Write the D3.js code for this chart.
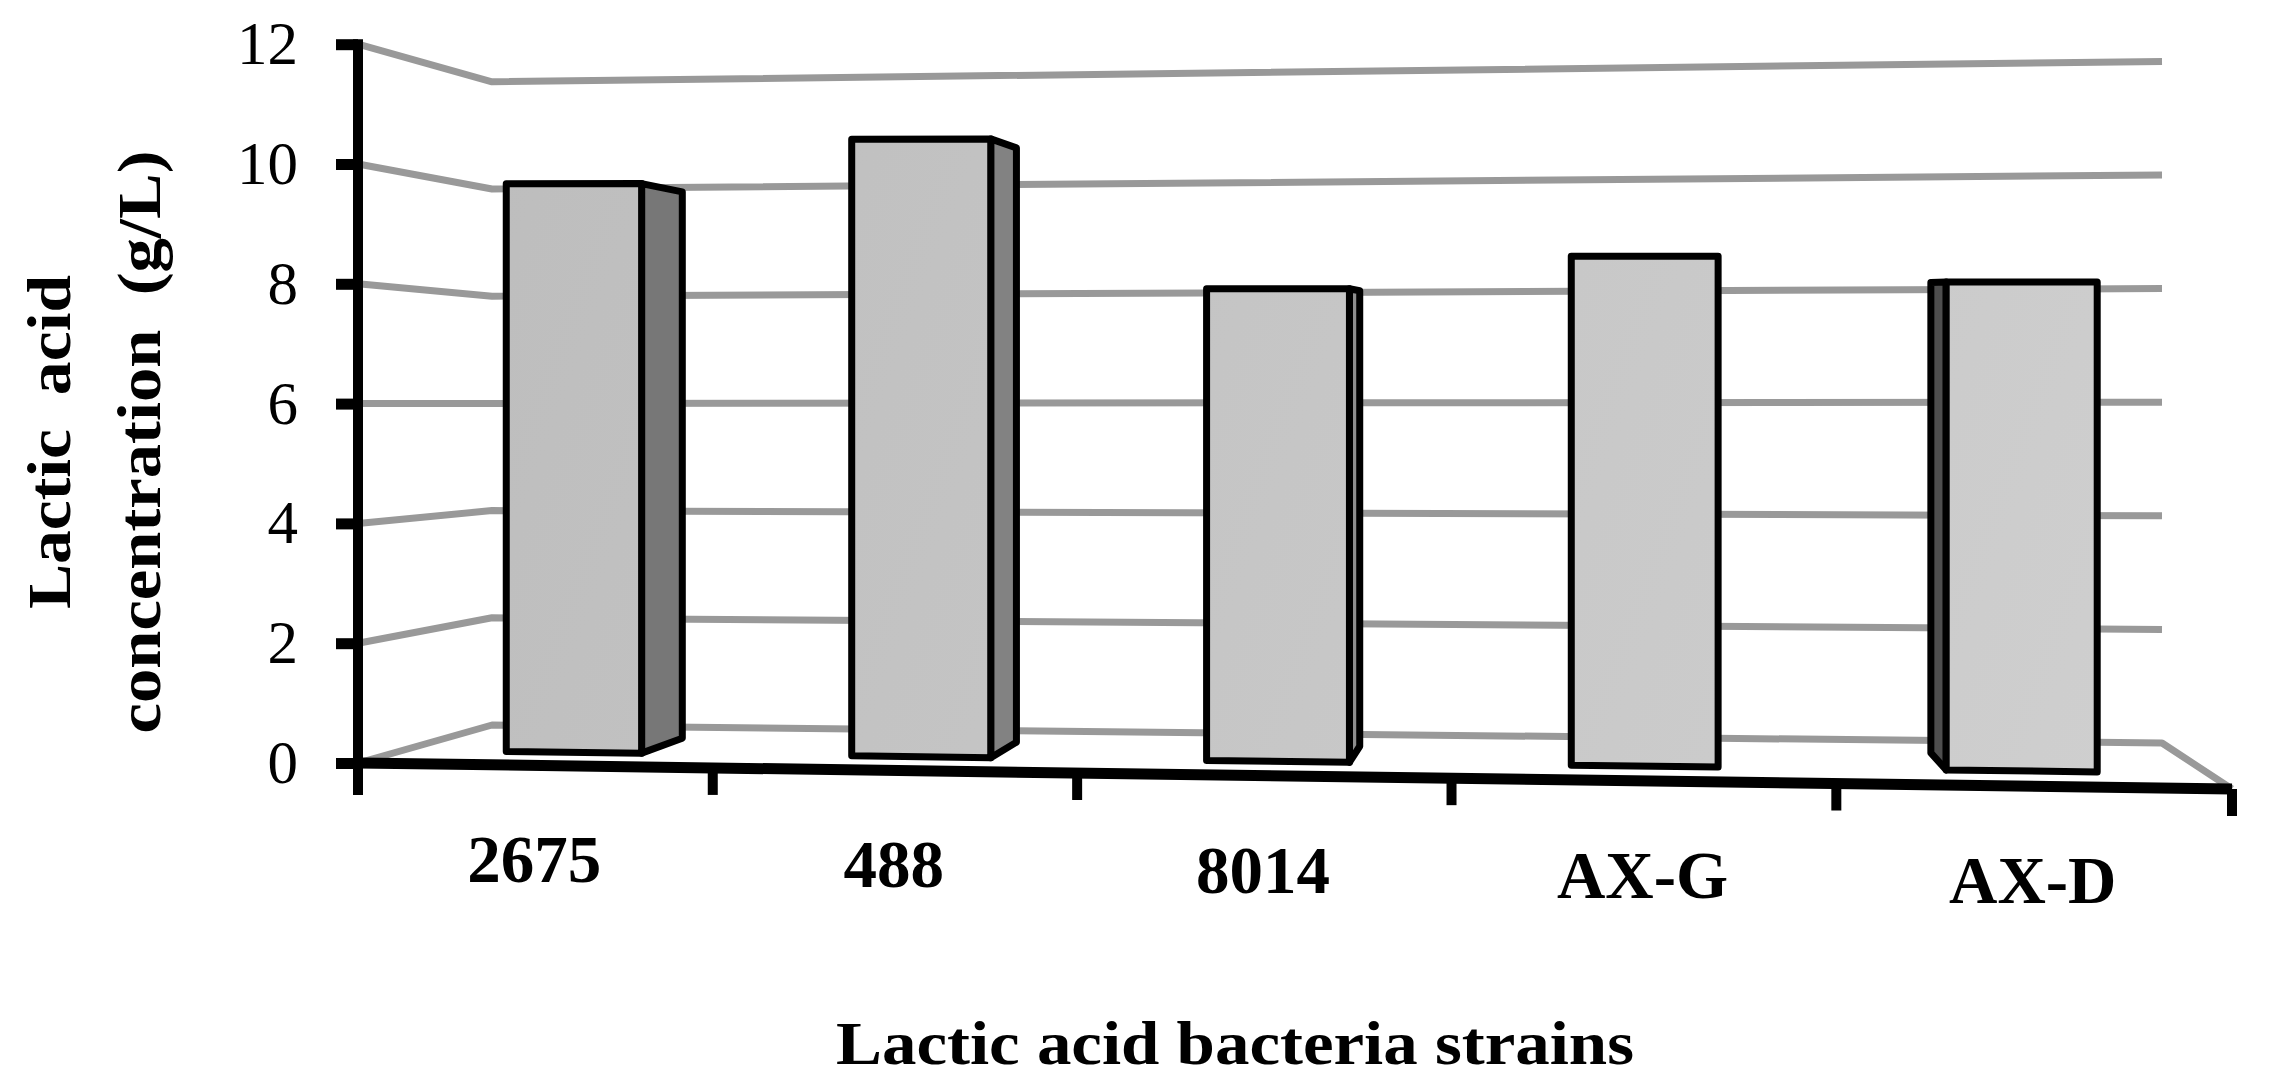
<!DOCTYPE html>
<html>
<head>
<meta charset="utf-8">
<script src="https://cdn.jsdelivr.net/npm/d3@7"></script>
<style>
html,body{margin:0;padding:0;background:#fff;}
svg{display:block;}
text{font-family:"Liberation Serif",serif;fill:#000;}
</style>
</head>
<body>
<div id="chart"></div>
<script>
const strains = ["2675", "488", "8014", "AX-G", "AX-D"];
const concentration = [9.8, 10.55, 8.0, 8.55, 8.12];
const yTicks = [0, 2, 4, 6, 8, 10, 12];
const yTitleLines = ["Lactic  acid", "concentration  (g/L)"];
const xTitle = "Lactic acid bacteria strains";

const W = 2270, H = 1091;
const svg = d3.select("#chart").append("svg").attr("width", W).attr("height", H).attr("viewBox", `0 0 ${W} ${H}`);

// Box corners of the pseudo-3D plot: front and back planes
const FL = {x: 358, y0: 763, unit: 59.9};
const FR = {x: 2232, y0: 789, unit: 62.4};
const BL = {x: 492, y0: 725, unit: 53.6};
const BR = {x: 2162, y0: 743, unit: 56.8};
const depthFront = 0.34, depthBack = 0.72;
const persp = 1.0706;

const lerp = (a, b, t) => a + (b - a) * t;
const foreshorten = t => t / (t + persp * (1 - t));
function project(t, w, v) {
  const u = foreshorten(t);
  const mix = k => lerp(lerp(FL[k], FR[k], u), lerp(BL[k], BR[k], u), w);
  return [mix("x"), mix("y0") - v * mix("unit")];
}

const xBand = d3.scaleBand().domain(strains).range([0, 1.003]).paddingInner(0.605).paddingOuter(0.3025);
const xLabel = d3.scaleBand().domain(strains).range([0, 1]);
const line = d3.line();

const defs = svg.append("defs");
const grad = defs.append("linearGradient").attr("id", "face").attr("gradientUnits", "userSpaceOnUse")
  .attr("x1", FL.x).attr("y1", 100).attr("x2", FR.x).attr("y2", 800);
grad.append("stop").attr("offset", 0).attr("stop-color", "#bcbcbc");
grad.append("stop").attr("offset", 1).attr("stop-color", "#d0d0d0");

// Gridlines: side wall then back wall
const grid = svg.append("g").attr("fill", "none").attr("stroke", "#999999").attr("stroke-width", 7).attr("stroke-linejoin", "round");
grid.selectAll("path").data(yTicks).join("path")
  .attr("d", v => {
    const pts = [project(0, 0, v), project(0, 1, v), project(1, 1, v)];
    if (v === 0) pts.push(project(1, 0, 0));
    return line(pts);
  });

// Bars
const bars = svg.append("g").attr("stroke", "#000").attr("stroke-width", 7).attr("stroke-linejoin", "round");
strains.forEach((s, i) => {
  const v = concentration[i];
  const t0 = xBand(s), t1 = t0 + xBand.bandwidth();
  const g = bars.append("g");
  const fBL = project(t0, depthFront, 0), bBL = project(t0, depthBack, 0);
  const fBR = project(t1, depthFront, 0), bBR = project(t1, depthBack, 0);
  const fTL = project(t0, depthFront, v), bTL = project(t0, depthBack, v);
  const fTR = project(t1, depthFront, v), bTR = project(t1, depthBack, v);
  if (bBR[0] > fBR[0] + 1) {
    g.append("path").attr("d", line([fBR, fTR, bTR, bBR]) + "Z")
      .attr("fill", d3.interpolateRgb("#777777", "#999999")(i / 3));
  }
  if (bBL[0] < fBL[0] - 1) {
    g.append("path").attr("d", line([fBL, fTL, bTL, bBL]) + "Z").attr("fill", "#4e4e4e");
  }
  g.append("path").attr("d", line([fBL, fTL, fTR, fBR]) + "Z").attr("fill", "url(#face)");
});

// Y axis on the front-left edge
const yFront = d3.scaleLinear().domain([0, 12]).range([FL.y0, FL.y0 - 12 * FL.unit]);
const yAxis = svg.append("g").attr("transform", `translate(${FL.x},0)`)
  .call(d3.axisLeft(yFront).tickValues(yTicks).tickSize(22).tickPadding(38).tickSizeOuter(0));
yAxis.select(".domain").attr("stroke", "#000").attr("stroke-width", 10)
  .attr("d", `M0,${yFront(12) - 5}V${yFront(0) + 32}`);
yAxis.selectAll(".tick line").attr("stroke", "#000").attr("stroke-width", 11);
yAxis.selectAll(".tick text").attr("font-size", 61).attr("font-family", "Liberation Serif").attr("fill", "#000").attr("dy", "0.32em");

// X axis along the slanted front edge
const xAxis = svg.append("g").attr("stroke", "#000");
xAxis.append("path").attr("fill", "none").attr("stroke-width", 11)
  .attr("d", line([project(0, 0, 0), project(1, 0, 0)]));
const tEdges = d3.range(strains.length + 1).map(i => i / strains.length);
xAxis.selectAll("line").data(tEdges).join("line")
  .attr("x1", t => project(t, 0, 0)[0]).attr("x2", t => project(t, 0, 0)[0])
  .attr("y1", t => project(t, 0, 0)[1]).attr("y2", t => project(t, 0, 0)[1] + 27)
  .attr("stroke-width", 10);

svg.append("g").selectAll("text").data(strains).join("text")
  .attr("x", s => project(xLabel(s) + xLabel.bandwidth() / 2, 0, 0)[0])
  .attr("y", s => project(xLabel(s) + xLabel.bandwidth() / 2, 0, 0)[1] + 117)
  .attr("text-anchor", "middle").attr("font-size", 67).attr("font-weight", "bold")
  .text(s => s);

svg.append("text").attr("x", 1235).attr("y", 1064).attr("text-anchor", "middle")
  .attr("font-size", 62).attr("font-weight", "bold")
  .attr("textLength", 798).attr("lengthAdjust", "spacingAndGlyphs").text(xTitle);

const yTitleX = [70, 160], yTitleLen = [334, 583];
svg.append("g").selectAll("text").data(yTitleLines).join("text")
  .attr("transform", (d, i) => `translate(${yTitleX[i]},442) rotate(-90)`)
  .attr("text-anchor", "middle").attr("font-size", 62).attr("font-weight", "bold")
  .attr("xml:space", "preserve").style("white-space", "pre")
  .attr("textLength", (d, i) => yTitleLen[i]).attr("lengthAdjust", "spacingAndGlyphs")
  .text(d => d);
</script>
</body>
</html>
